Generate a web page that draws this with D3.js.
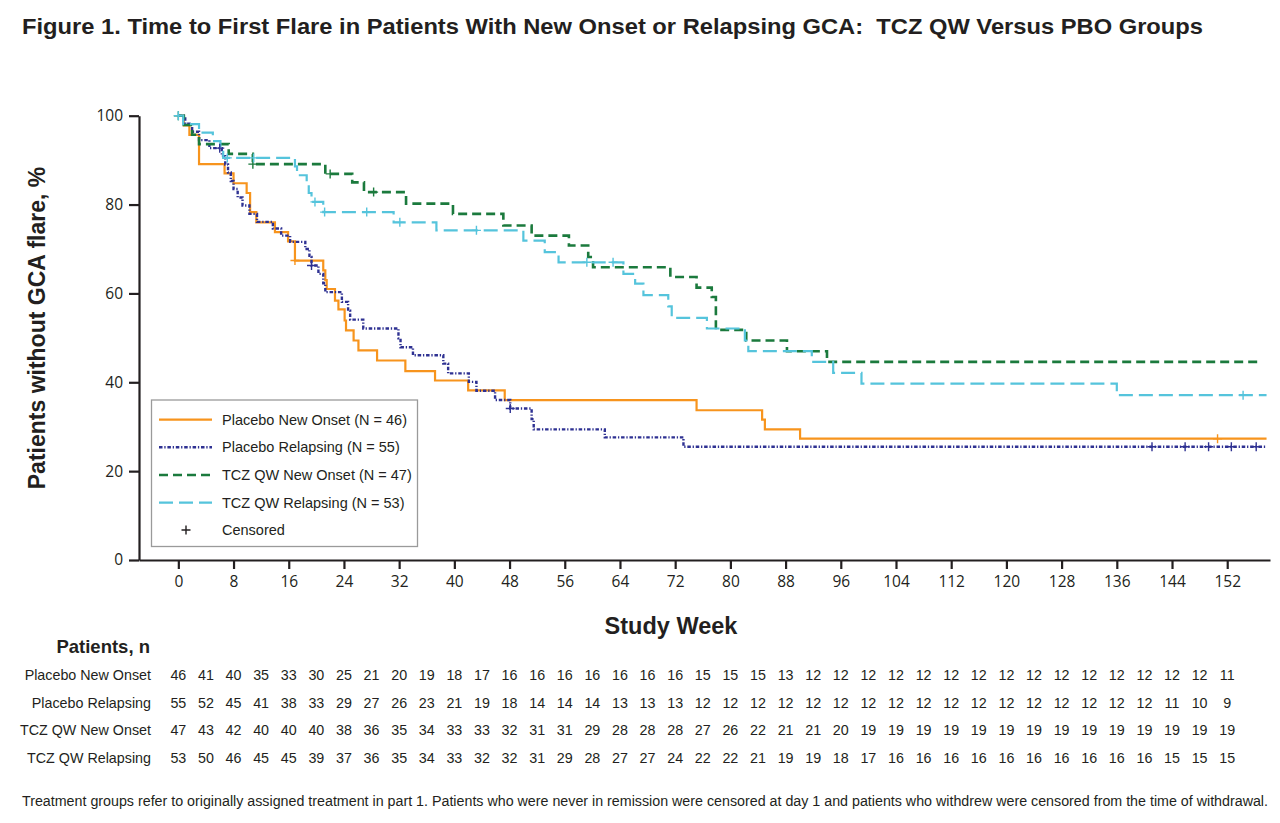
<!DOCTYPE html>
<html><head><meta charset="utf-8">
<script src="https://cdn.jsdelivr.net/npm/d3@7"></script>
<style>body{margin:0;background:#fff} svg{display:block}</style>
</head><body>
<svg id="chart" width="1280" height="823"></svg>
<script>
// ---------- data ----------
const atRiskWeeks = d3.range(0, 153, 4);
const xTickValues = d3.range(0, 153, 8);
const yTickValues = [0, 20, 40, 60, 80, 100];
const groupNames = ["Placebo New Onset", "Placebo Relapsing", "TCZ QW New Onset", "TCZ QW Relapsing"];
const groupN = [46, 55, 47, 53];

// step points: [week, % without flare]
const placeboNewOnset = [[0,100],[0.8,97.8],[1.6,95.7],[3.0,89.1],[6.7,87.0],[8.0,84.8],[9.9,82.6],[10.4,78.3],[11.3,76.0],[14.0,73.8],[15.9,71.7],[16.9,67.4],[21.0,65.2],[21.3,63.0],[21.5,61.0],[22.7,58.4],[23.2,56.4],[24.1,53.9],[24.3,51.7],[25.4,49.4],[26.1,47.2],[28.8,44.9],[32.9,42.5],[37.2,40.4],[42.0,38.2],[47.3,36.0],[75.1,33.7],[84.6,31.6],[85.0,29.4],[90.1,27.3]];
const placeboRelapsing = [[0,100],[1.0,98.2],[2.0,96.4],[3.0,94.5],[4.5,92.7],[6.3,90.9],[6.8,89.0],[7.2,87.2],[7.6,85.3],[8.0,83.5],[8.6,81.6],[9.3,79.8],[10.3,77.9],[11.4,76.1],[13.7,74.6],[14.9,73.0],[16.2,71.6],[18.4,70.0],[19.0,68.2],[19.3,66.3],[20.3,64.4],[21.0,62.3],[21.3,60.3],[23.7,58.1],[24.6,56.1],[24.9,54.1],[26.8,52.1],[31.9,49.9],[32.2,47.9],[34.0,46.1],[38.4,44.2],[39.1,42.0],[42.1,40.1],[43.2,38.1],[45.9,36.0],[48.1,34.1],[51.2,31.7],[51.5,29.4],[61.8,27.6],[73.2,25.5]];
const tczNewOnset = [[0,100],[0.8,97.9],[2.0,95.7],[3.0,93.6],[7.3,91.4],[10.8,89.1],[21.3,86.9],[25.2,85.0],[26.9,82.8],[33.0,80.2],[39.8,77.9],[47.1,75.3],[51.2,73.0],[56.6,70.8],[59.4,68.2],[60.1,65.9],[71.3,63.7],[75.1,61.3],[77.3,59.2],[77.9,51.8],[82.3,49.4],[88.2,47.0],[94.0,44.6]];
const tczRelapsing = [[0,100],[0.7,98.1],[3.0,96.2],[5.0,94.3],[6.1,92.4],[6.5,90.5],[16.9,88.6],[17.2,86.6],[18.6,84.6],[18.9,82.6],[19.3,80.6],[21.0,78.3],[31.2,76.0],[37.4,74.2],[50.0,71.9],[53.1,69.3],[55.1,67.0],[64.5,64.4],[66.2,62.2],[67.4,59.6],[71.0,57.1],[71.5,54.5],[76.6,52.1],[82.1,49.4],[82.6,47.0],[91.8,44.6],[94.9,42.1],[99.0,39.7],[136.0,37.1]];
const lastWeek = [157.7, 157.7, 156.4, 157.7];

// censored weeks
const censorPlaceboNewOnset = [16.9, 150.6];
const censorPlaceboRelapsing = [6.0, 19.3, 48.1, 141.1, 145.9, 149.3, 152.6, 156.2];
const censorTczNewOnset = [0, 10.8, 22.0, 28.3];
const censorTczRelapsing = [0, 7.1, 10.9, 19.8, 21.2, 27.3, 32.1, 43.2, 59.2, 63.0, 154.3];

// patients at risk
const riskPlaceboNewOnset = [46,41,40,35,33,30,25,21,20,19,18,17,16,16,16,16,16,16,16,15,15,15,13,12,12,12,12,12,12,12,12,12,12,12,12,12,12,12,11];
const riskPlaceboRelapsing = [55,52,45,41,38,33,29,27,26,23,21,19,18,14,14,14,13,13,13,12,12,12,12,12,12,12,12,12,12,12,12,12,12,12,12,12,11,10,9];
const riskTczNewOnset = [47,43,42,40,40,40,38,36,35,34,33,33,32,31,31,29,28,28,28,27,26,22,21,21,20,19,19,19,19,19,19,19,19,19,19,19,19,19,19];
const riskTczRelapsing = [53,50,46,45,45,39,37,36,35,34,33,32,32,31,29,28,27,27,24,22,22,21,19,19,18,17,16,16,16,16,16,16,16,16,16,16,15,15,15];

// ---------- styles ----------
const colors = ["#F7941D", "#2E3192", "#1B7A3D", "#55C4DC"];
const dashes = [null, "3.5,1.8,1.3,1.8", "9,5", "14,6"];
const widths = [2.2, 2.4, 2.6, 2.2];

const series = [placeboNewOnset, placeboRelapsing, tczNewOnset, tczRelapsing];
const censors = [censorPlaceboNewOnset, censorPlaceboRelapsing, censorTczNewOnset, censorTczRelapsing];
const risks = [riskPlaceboNewOnset, riskPlaceboRelapsing, riskTczNewOnset, riskTczRelapsing];

const svg = d3.select("#chart");
const sans = "'Liberation Sans', Arial, Helvetica, sans-serif";
const tickFont = "'Open Sans', 'Noto Sans', sans-serif";
const ink = "#231F20";

svg.append("rect").attr("width",1280).attr("height",823).attr("fill","#fff");

// title
svg.append("text").attr("x",22).attr("y",34)
  .attr("font-family",sans).attr("font-weight","bold").attr("font-size",22.5).attr("fill",ink)
  .attr("textLength",1181).attr("lengthAdjust","spacingAndGlyphs")
  .style("white-space","pre")
  .text("Figure 1. Time to First Flare in Patients With New Onset or Relapsing GCA:  TCZ QW Versus PBO Groups");

// scales
const x = d3.scaleLinear().domain([-5.7, 158.2]).range([139, 1270]);
const y = d3.scaleLinear().domain([0, 100]).range([560, 115.7]);

// axes
const gx = svg.append("g").attr("transform","translate(0,560)")
  .call(d3.axisBottom(x).tickValues(xTickValues).tickSize(9).tickSizeOuter(0).tickPadding(7));
const gy = svg.append("g").attr("transform","translate(139,0)")
  .call(d3.axisLeft(y).tickValues(yTickValues).tickSize(10).tickSizeOuter(0).tickPadding(6));
[gx, gy].forEach(g => {
  g.select(".domain").attr("stroke",ink).attr("stroke-width",2.2);
  g.selectAll(".tick line").attr("stroke",ink).attr("stroke-width",2.2);
  g.selectAll(".tick text").attr("font-family",tickFont).attr("font-size",15.5).attr("fill",ink);
});

// axis titles
svg.append("text").attr("transform","translate(45,328) rotate(-90)").attr("text-anchor","middle")
  .attr("font-family",sans).attr("font-weight","bold").attr("font-size",23).attr("fill",ink)
  .text("Patients without GCA flare, %");
svg.append("text").attr("x",671).attr("y",634).attr("text-anchor","middle")
  .attr("font-family",sans).attr("font-weight","bold").attr("font-size",23.5).attr("fill",ink)
  .text("Study Week");

// curves
const line = d3.line().x(d => x(d[0])).y(d => y(d[1])).curve(d3.curveStepAfter);
function valueAt(s, t){ let v = s[0][1]; for (const p of s){ if (p[0] <= t) v = p[1]; } return v; }

series.forEach((s, i) => {
  const pts = s.concat([[lastWeek[i], s[s.length-1][1]]]);
  const path = svg.append("path").datum(pts).attr("d", line)
    .attr("fill","none").attr("stroke",colors[i]).attr("stroke-width",widths[i]);
  if (dashes[i]) path.attr("stroke-dasharray", dashes[i]);
});
series.forEach((s, i) => {
  censors[i].forEach(t => {
    const cx = x(t), cy = y(valueAt(s, t));
    svg.append("path").attr("d",`M${cx-4.5},${cy}H${cx+4.5}M${cx},${cy-4.5}V${cy+4.5}`)
      .attr("stroke",colors[i]).attr("stroke-width",1.4).attr("fill","none");
  });
});

// legend
const lg = svg.append("g");
lg.append("rect").attr("x",151.5).attr("y",400).attr("width",266).attr("height",146.5)
  .attr("fill","#fff").attr("stroke","#9a9a9a").attr("stroke-width",1.3);
const legendRows = [419.6, 447.3, 475, 502.7, 530];
series.forEach((s, i) => {
  const ly = legendRows[i];
  const l = lg.append("line").attr("x1",159).attr("x2",212).attr("y1",ly).attr("y2",ly)
    .attr("stroke",colors[i]).attr("stroke-width",widths[i]);
  if (dashes[i]) l.attr("stroke-dasharray", dashes[i]);
  lg.append("text").attr("x",222).attr("y",ly+5).attr("font-family",sans).attr("font-size",14.5).attr("fill",ink)
    .text(`${groupNames[i]} (N = ${groupN[i]})`);
});
lg.append("path").attr("d",`M181.5,530H190.5M186,525.5V534.5`).attr("stroke",ink).attr("stroke-width",1.4);
lg.append("text").attr("x",222).attr("y",535).attr("font-family",sans).attr("font-size",14.5).attr("fill",ink).text("Censored");

// patients at risk table
svg.append("text").attr("x",150).attr("y",653).attr("text-anchor","end")
  .attr("font-family",sans).attr("font-weight","bold").attr("font-size",18.5).attr("fill",ink).text("Patients, n");
const rowY = [680, 708, 735, 763];
risks.forEach((r, i) => {
  svg.append("text").attr("x",151).attr("y",rowY[i]).attr("text-anchor","end")
    .attr("font-family",sans).attr("font-size",14.3).attr("fill",ink).text(groupNames[i]);
  svg.append("g").selectAll("text").data(r).join("text")
    .attr("x",(d,j) => x(atRiskWeeks[j])).attr("y",rowY[i]).attr("text-anchor","middle")
    .attr("font-family",sans).attr("font-size",14.3).attr("fill",ink).text(d => d);
});

// footnote
svg.append("text").attr("x",22).attr("y",806).attr("font-family",sans).attr("font-size",14).attr("fill",ink)
  .attr("textLength",1246).attr("lengthAdjust","spacingAndGlyphs")
  .text("Treatment groups refer to originally assigned treatment in part 1. Patients who were never in remission were censored at day 1 and patients who withdrew were censored from the time of withdrawal.");
</script>
</body></html>
